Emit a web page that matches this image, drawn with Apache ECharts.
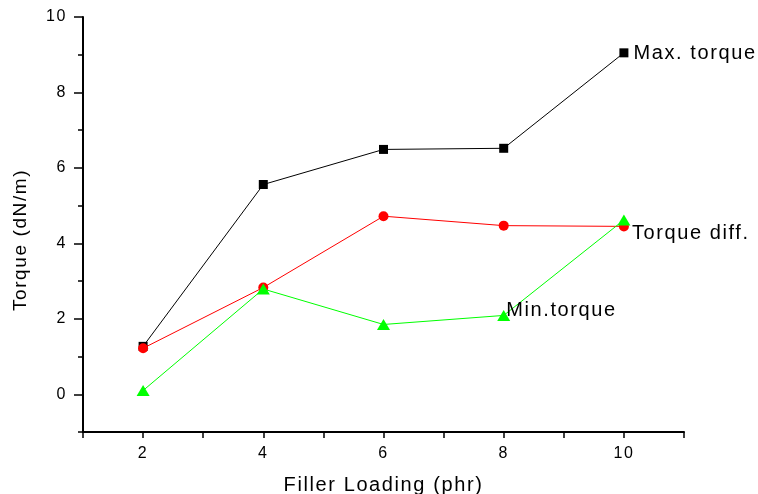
<!DOCTYPE html>
<html><head><meta charset="utf-8">
<script src="https://cdn.jsdelivr.net/npm/echarts@6/dist/echarts.min.js"></script>
<style>html,body{margin:0;padding:0;background:#fff}#c{width:758px;height:494px}</style>
</head><body><div id="c"></div>
<script>
(function(){
  var P = CanvasRenderingContext2D.prototype;
  ['fillText','strokeText','measureText'].forEach(function(k){
    var o = P[k];
    P[k] = function(){ try{ this.letterSpacing = '1.6px'; }catch(e){} return o.apply(this, arguments); };
  });
})();

var loading = [2, 4, 6, 8, 10];
var maxTorque = [1.27, 5.56, 6.49, 6.52, 9.05];
var torqueDiff = [1.22, 2.83, 4.72, 4.47, 4.45];
var minTorque = [0.1, 2.79, 1.85, 2.09, 4.62];
var xTickLabels = [2, 4, 6, 8, 10];
var yTickLabels = [0, 2, 4, 6, 8, 10];
var seriesNames = ['Max. torque', 'Torque diff.', 'Min.torque'];
var xTitle = 'Filler Loading (phr)';
var yTitle = 'Torque (dN/m)';

var FONT = "'Liberation Sans', Arial, sans-serif";

function pairs(vals, labelIdx, labelText, labelOpt) {
  return vals.map(function(v, i){
    var d = { value: [loading[i], v] };
    if (i === labelIdx) {
      d.label = Object.assign({ show: true, formatter: labelText, color: '#000',
        fontFamily: FONT, fontSize: 20 }, labelOpt);
    }
    return d;
  });
}

var chart = echarts.init(document.getElementById('c'), null, { renderer: 'canvas' });
chart.setOption({
  animation: false,
  backgroundColor: '#fff',
  grid: { left: 83, right: 74, top: 17, bottom: 62, containLabel: false, outerBoundsMode: 'none' },
  xAxis: {
    type: 'value', min: 1, max: 11, interval: 1,
    name: xTitle, nameLocation: 'middle', nameGap: 43,
    nameTextStyle: { fontFamily: FONT, fontSize: 20, color: '#000' },
    axisLine: { show: true, onZero: false, lineStyle: { color: '#000', width: 2 } },
    axisTick: { show: true, inside: false, length: 6, lineStyle: { color: '#000', width: 1.5 } },
    axisLabel: { margin: 13, fontFamily: FONT, fontSize: 16, color: '#000',
      formatter: function(v){ return xTickLabels.indexOf(v) >= 0 ? String(v) : ''; } },
    splitLine: { show: false }
  },
  yAxis: [{
    type: 'value', min: -1, max: 10, interval: 1,
    axisLine: { show: true, onZero: false, lineStyle: { color: '#000', width: 2 } },
    axisTick: { show: true, inside: false, length: 5, lineStyle: { color: '#000', width: 1.5 } },
    axisLabel: { margin: 16, fontFamily: FONT, fontSize: 16, color: '#000',
      formatter: function(v){ return yTickLabels.indexOf(v) >= 0 ? String(v) : ''; } },
    splitLine: { show: false }
  }, {
    type: 'value', min: -1, max: 10, interval: 1, position: 'left', offset: 0,
    axisLine: { show: false },
    axisTick: { show: true, inside: false, length: 9, customValues: yTickLabels,
      lineStyle: { color: '#000', width: 1.5 } },
    axisLabel: { show: false },
    splitLine: { show: false }
  }],
  graphic: [{
    type: 'text', x: 21, y: 240, rotation: Math.PI / 2,
    style: { text: yTitle, fontFamily: FONT, fontSize: 19, fill: '#000',
      textAlign: 'center', textVerticalAlign: 'middle' }
  }],
  series: [{
    name: seriesNames[0], type: 'line', yAxisIndex: 0,
    data: pairs(maxTorque, 4, seriesNames[0], { position: 'right', distance: 5, offset: [0, 1] }),
    symbol: 'rect', symbolSize: 9,
    lineStyle: { color: '#000', width: 1 }, itemStyle: { color: '#000' }
  }, {
    name: seriesNames[1], type: 'line', yAxisIndex: 0,
    data: pairs(torqueDiff, 4, seriesNames[1], { position: 'right', distance: 3, offset: [0, 7] }),
    symbol: 'circle', symbolSize: 10,
    lineStyle: { color: '#ff0000', width: 1 }, itemStyle: { color: '#ff0000' }
  }, {
    name: seriesNames[2], type: 'line', yAxisIndex: 0,
    data: pairs(minTorque, 3, seriesNames[2], { position: 'right', distance: -4, offset: [0, -5] }),
    symbol: 'triangle', symbolSize: [13, 11],
    lineStyle: { color: '#00ff00', width: 1 }, itemStyle: { color: '#00ff00' }
  }]
});
</script>
</body></html>
